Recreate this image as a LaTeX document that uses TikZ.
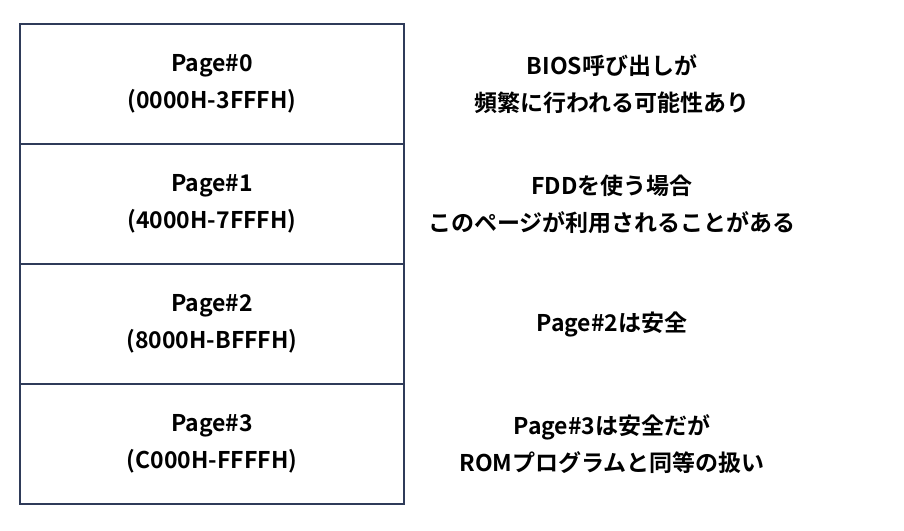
\documentclass[tikz,border=0pt]{standalone}
\usepackage{fontspec}
\setmainfont{Noto Sans CJK JP}[BoldFont={Noto Sans CJK JP Bold}]
\usetikzlibrary{positioning}
\definecolor{framecol}{HTML}{2F3B59}
\tikzset{
% page boxes and the notes beside them
page box/.style={draw=framecol,line width=1.2pt,minimum width=384pt,minimum height=120pt,
  inner sep=0pt,align=center,font=\fontsize{23pt}{37pt}\selectfont\bfseries},
note/.style={align=center,font=\fontsize{23pt}{37pt}\selectfont\bfseries}
}
\begin{document}
\begin{tikzpicture}[x=1pt,y=-1pt]
      \useasboundingbox (0,0) rectangle (904,530);
      % The pages
      \node(p0)[page box] at (212,84) {Page\#0\\(0000H-3FFFH)};
      \node(p1)[page box] at (212,204) {Page\#1\\(4000H-7FFFH)};
      \node(p2)[page box] at (212,324) {Page\#2\\(8000H-BFFFH)};
      \node(p3)[page box] at (212,444) {Page\#3\\(C000H-FFFFH)};
      % Notes
      \node(n0)[note] at (p0.center -| 612,0) {BIOS呼び出しが\\頻繁に行われる可能性あり};
      \node(n1)[note] at (p1.center -| 612,0) {FDDを使う場合\\このページが利用されることがある};
      \node(n2)[note] at (p2.center -| 612,0) {Page\#2は安全};
      \node(n3)[note] at (p3.center -| 612,0) {Page\#3は安全だが\\ROMプログラムと同等の扱い};
\end{tikzpicture}
\end{document}
